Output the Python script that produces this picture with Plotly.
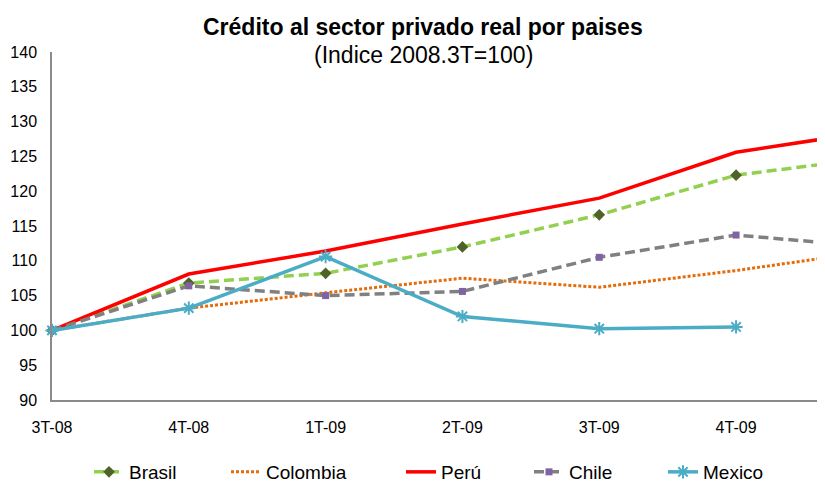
import plotly.graph_objects as go

categories = ["3T-08", "4T-08", "1T-09", "2T-09", "3T-09", "4T-09", "1T-10"]
brasil = [100, 106.8, 108.2, 112.0, 116.6, 122.3, 124.8]
colombia = [100, 103.2, 105.4, 107.5, 106.2, 108.6, 111.4]
peru = [100, 108.1, 111.4, 115.3, 119.0, 125.6, 128.6]
chile = [100, 106.4, 105.0, 105.6, 110.5, 113.7, 112.0]
mexico = [100, 103.2, 110.6, 102.0, 100.25, 100.5, None]

# page body has an 8px margin, so the figure is sized to fill the rest of the window
OFF = 8
W, H = 825 - OFF, 483 - OFF
FONT = "Liberation Sans, Arial, sans-serif"

fig = go.Figure()

series = [
    dict(name="Brasil", y=brasil, line=dict(color="#92D050", width=3.5, dash="10px,5px"),
         marker=dict(symbol="diamond", size=9, color="#4F6228", line=dict(width=0)), mode="lines+markers"),
    dict(name="Colombia", y=colombia, line=dict(color="#E46C0A", width=3, dash="3px,2px"),
         mode="lines"),
    dict(name="Perú", y=peru, line=dict(color="#FF0000", width=3.5), mode="lines"),
    dict(name="Chile", y=chile, line=dict(color="#808080", width=3.5, dash="10px,5px"),
         marker=dict(symbol="square", size=7, color="#8064A2", line=dict(width=0)), mode="lines+markers"),
    dict(name="Mexico", y=mexico, line=dict(color="#4BACC6", width=3.5),
         marker=dict(symbol="asterisk-open", size=11, color="#4BACC6", line=dict(width=2, color="#4BACC6")),
         mode="lines+markers"),
]

# legend symbol starts (page px)
legend_x = [93, 230, 405, 533, 667]
for i, s in enumerate(series):
    lg = "legend" if i == 0 else f"legend{i+1}"
    fig.add_trace(go.Scatter(x=categories, y=s["y"], name=s["name"], mode=s["mode"],
                             line=s["line"], marker=s.get("marker"), cliponaxis=False,
                             legend=lg, connectgaps=False, showlegend=True))

legend_common = dict(orientation="h", xref="container", yref="container",
                     yanchor="middle", xanchor="left", bgcolor="rgba(0,0,0,0)",
                     font=dict(family=FONT, size=19, color="#000000"), borderwidth=0)
layout_legends = {}
for i, lx in enumerate(legend_x):
    key = "legend" if i == 0 else f"legend{i+1}"
    layout_legends[key] = dict(legend_common, x=(lx - OFF - 4) / W, y=1 - (472 - OFF) / H)

PL, PR, PT, PB = 52, 825, 52, 400  # plot area in page px
fig.update_layout(
    width=W, height=H,
    margin=dict(l=PL - OFF, r=825 - PR, t=PT - OFF, b=483 - PB),
    paper_bgcolor="white", plot_bgcolor="white",
    font=dict(family=FONT, size=16, color="#000000"),
    xaxis=dict(type="category", range=[0, 5.65], showgrid=False, zeroline=False,
               showline=True, linecolor="#8A8A8A", linewidth=1.5, ticks="",
               ticklabelstandoff=12, tickfont=dict(size=16, family=FONT)),
    yaxis=dict(range=[90, 140], dtick=5, showgrid=False, zeroline=False,
               showline=True, linecolor="#8A8A8A", linewidth=1.5, ticks="",
               ticklabelstandoff=10, tickfont=dict(size=16, family=FONT)),
    annotations=[
        dict(text="<b>Crédito al sector privado real por paises</b>", xref="paper", yref="paper",
             x=(423 - PL) / (PR - PL), y=(PB - 26.7) / (PB - PT), xanchor="center", yanchor="middle",
             showarrow=False, font=dict(family=FONT, size=23, color="#000000")),
        dict(text="(Indice 2008.3T=100)", xref="paper", yref="paper",
             x=(423 - PL) / (PR - PL), y=(PB - 55) / (PB - PT), xanchor="center", yanchor="middle",
             showarrow=False, font=dict(family=FONT, size=23, color="#000000")),
    ],
    **layout_legends,
)

fig.write_html("out.html")
